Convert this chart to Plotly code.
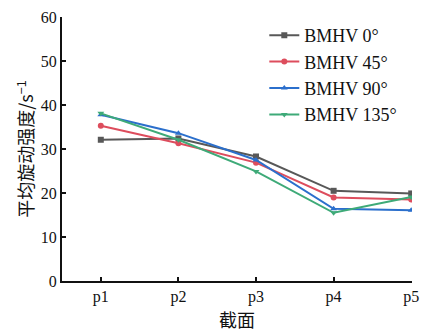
import plotly.graph_objects as go

categories = ["p1", "p2", "p3", "p4", "p5"]
bmhv_0 = [32.1, 32.4, 28.3, 20.5, 19.9]
bmhv_45 = [35.3, 31.3, 26.9, 19.0, 18.5]
bmhv_90 = [37.8, 33.6, 27.5, 16.4, 16.1]
bmhv_135 = [38.1, 32.1, 24.9, 15.5, 19.1]

series = [
    ("BMHV 0°", bmhv_0, "#585858", "square"),
    ("BMHV 45°", bmhv_45, "#dd4d5d", "circle"),
    ("BMHV 90°", bmhv_90, "#2b6fcc", "triangle-up"),
    ("BMHV 135°", bmhv_135, "#3eaa78", "triangle-down"),
]

fig = go.Figure()
for name, vals, color, sym in series:
    fig.add_trace(go.Scatter(
        x=list(range(len(categories))), y=vals, name=name, mode="lines+markers",
        line=dict(color=color, width=2),
        marker=dict(symbol=sym, size=6, color=color),
    ))

font_serif = "Liberation Serif, Times New Roman, serif"
fig.update_layout(
    width=428, height=333,
    margin=dict(l=62, r=9, t=16, b=52),
    paper_bgcolor="white", plot_bgcolor="white",
    font=dict(family=font_serif, size=16, color="#111"),
    showlegend=True,
    legend=dict(x=0.578, y=1.0, xanchor="left", yanchor="top",
                bgcolor="rgba(0,0,0,0)", font=dict(size=18, family=font_serif),
                tracegroupgap=0, itemwidth=30),
    xaxis=dict(
        tickmode="array", tickvals=list(range(len(categories))), ticktext=categories,
        range=[-0.5, 4.01], showgrid=False, zeroline=False,
        showline=True, linecolor="#111", linewidth=2,
        ticks="inside", ticklen=4, tickwidth=2, tickcolor="#111",
        title=dict(text="截面", font=dict(family="Noto Sans CJK SC", size=18), standoff=3),
    ),
    yaxis=dict(
        range=[0, 60], tickvals=[0, 10, 20, 30, 40, 50, 60], showgrid=False, zeroline=False,
        showline=True, linecolor="#111", linewidth=2,
        ticks="inside", ticklen=4, tickwidth=2, tickcolor="#111",
        title=dict(text="平均旋动强度/s<sup>−1</sup>", font=dict(family="Noto Sans CJK SC", size=18), standoff=2),
    ),
)

fig.write_html("out.html", config={"displayModeBar": False},
               post_script="document.body.style.margin='0';document.body.style.overflow='hidden';")
